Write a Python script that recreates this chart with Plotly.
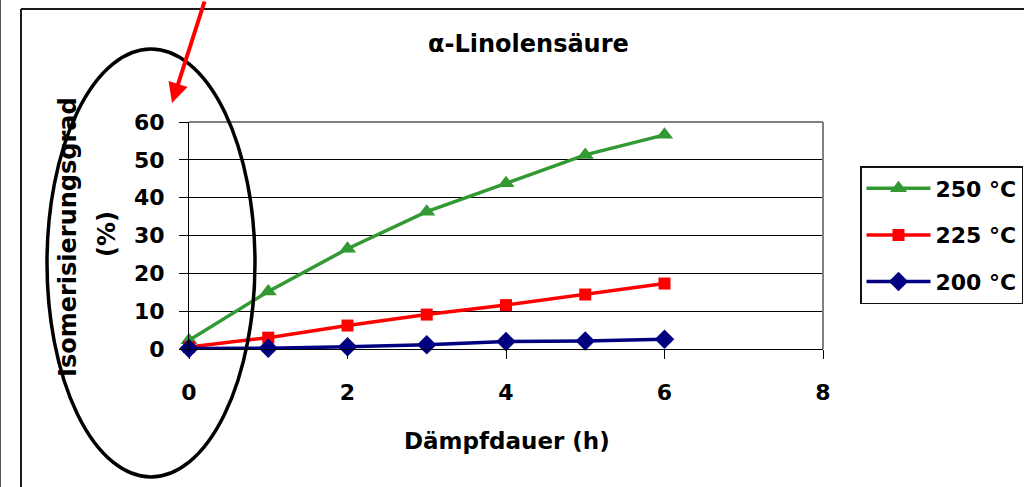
import plotly.graph_objects as go

# Steaming time (h) and degree of isomerisation (%) per temperature
hours = [0, 1, 2, 3, 4, 5, 6]
iso_250 = [2.3, 15.2, 26.5, 36.3, 43.8, 51.3, 56.6]
iso_225 = [0.5, 3.0, 6.2, 9.1, 11.6, 14.4, 17.3]
iso_200 = [0.1, 0.2, 0.6, 1.1, 2.0, 2.1, 2.6]
series_names = ["250 °C", "225 °C", "200 °C"]
x_ticks = [0, 2, 4, 6, 8]
y_ticks = [0, 10, 20, 30, 40, 50, 60]

W, H = 1024, 487
PL, PR, PT, PB = 189, 823, 122, 349  # plot area in pixels


def px(x):
    return (x - PL) / (PR - PL)


def py(y):
    return (PB - y) / (PB - PT)


BOLD = "DejaVu Sans"
styles = [
    dict(color="#339933", symbol="triangle-up", size=15),
    dict(color="#FF0000", symbol="square", size=12),
    dict(color="#000080", symbol="diamond", size=15),
]

fig = go.Figure()
for name, vals, st in zip(series_names, [iso_250, iso_225, iso_200], styles):
    fig.add_trace(go.Scatter(
        x=hours, y=vals, name="<b>" + name + "</b>", mode="lines+markers",
        legendgroup=name, cliponaxis=False,
        line=dict(color=st["color"], width=3.5),
        marker=dict(color=st["color"], symbol=st["symbol"], size=st["size"],
                    line=dict(width=0)),
    ))

axis_font = dict(family=BOLD, size=22, color="black", weight="bold")

fig.update_xaxes(
    range=[0, 8], tickvals=x_ticks, showgrid=False, zeroline=False,
    showline=True, linecolor="black", linewidth=1,
    ticks="outside", ticklen=9, tickcolor="black", tickwidth=1,
    tickfont=axis_font, ticklabelstandoff=15,
)
fig.update_yaxes(
    range=[0, 60], tickvals=y_ticks, showgrid=True, gridcolor="black",
    gridwidth=1, zeroline=False,
    showline=True, linecolor="black", linewidth=1,
    ticks="outside", ticklen=9, tickcolor="black", tickwidth=1,
    tickfont=axis_font, ticklabelstandoff=10,
)

shapes = [
    # grey frame of the plot area (top and right)
    dict(type="line", xref="paper", yref="paper", x0=0, x1=1, y0=1, y1=1,
         line=dict(color="#808080", width=2)),
    dict(type="line", xref="paper", yref="paper", x0=1, x1=1, y0=0, y1=1,
         line=dict(color="#808080", width=2)),
    # outer chart border
    dict(type="line", xref="paper", yref="paper", x0=px(21), x1=px(1030),
         y0=py(9), y1=py(9), line=dict(color="#1a1a1a", width=2)),
    dict(type="line", xref="paper", yref="paper", x0=px(21), x1=px(21),
         y0=py(9), y1=py(495), line=dict(color="#1a1a1a", width=2)),
    dict(type="line", xref="paper", yref="paper", x0=px(0.5), x1=px(0.5),
         y0=py(-5), y1=py(495), line=dict(color="#555555", width=1)),
    # highlight ellipse around the y axis
    dict(type="circle", xref="paper", yref="paper", layer="above",
         x0=px(47), x1=px(255), y0=py(477), y1=py(49),
         line=dict(color="black", width=3.5)),
]

annotations = [
    dict(text="<b>α-Linolensäure</b>", xref="paper", yref="paper",
         x=px(528), y=py(44), xanchor="center", yanchor="middle",
         showarrow=False, font=dict(family=BOLD, size=24, color="black", weight="bold")),
    dict(text="<b>Dämpfdauer (h)</b>", xref="paper", yref="paper",
         x=px(507), y=py(441), xanchor="center", yanchor="middle",
         showarrow=False, font=dict(family=BOLD, size=23, color="black", weight="bold")),
    dict(text="<b>Isomerisierungsgrad</b>", xref="paper", yref="paper",
         x=px(68), y=py(237), xanchor="center", yanchor="middle", textangle=-90,
         showarrow=False, font=dict(family=BOLD, size=24, color="black", weight="bold")),
    dict(text="<b>(%)</b>", xref="paper", yref="paper",
         x=px(107), y=py(234), xanchor="center", yanchor="middle", textangle=-90,
         showarrow=False, font=dict(family=BOLD, size=24, color="black", weight="bold")),
    # red pointer arrow
    dict(text="", xref="paper", yref="paper", x=px(172), y=py(103),
         ax=33, ay=-108, showarrow=True, arrowhead=2, arrowsize=1,
         arrowwidth=4, arrowcolor="#FF0000", standoff=0),
]

fig.update_layout(
    width=W, height=H,
    margin=dict(l=PL, r=W - PR, t=PT, b=H - PB, autoexpand=False),
    paper_bgcolor="white", plot_bgcolor="white",
    showlegend=True,
    legend=dict(
        x=px(860), y=py(166), xanchor="left", yanchor="top",
        bgcolor="white", bordercolor="#111111", borderwidth=1.5,
        font=dict(family=BOLD, size=22, color="black", weight="bold"),
        itemwidth=64, tracegroupgap=15,
    ),
    shapes=shapes, annotations=annotations,
)

fig.write_html("out.html")
